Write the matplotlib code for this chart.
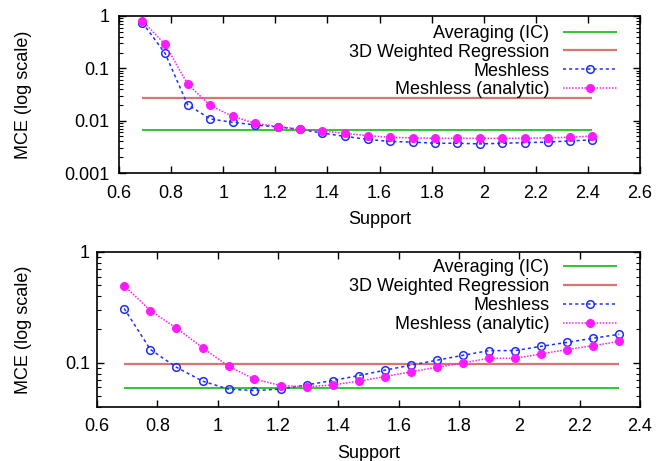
import numpy as np
from matplotlib import pyplot as plt
from matplotlib.ticker import FixedLocator, LogLocator, FuncFormatter, NullFormatter

plt.rcParams['font.family'] = ['Liberation Sans', 'DejaVu Sans']
plt.rcParams['font.size'] = 13

# data
support = [0.69, 0.777, 0.863, 0.95, 1.036, 1.122, 1.209, 1.295, 1.381, 1.468,
           1.554, 1.64, 1.727, 1.813, 1.899, 1.986, 2.072, 2.158, 2.245, 2.331, 2.417]

top_meshless = [0.745, 0.193, 0.0203, 0.0108, 0.0093, 0.0083, 0.0076, 0.0068, 0.0058, 0.0050,
                0.0044, 0.0040, 0.0039, 0.0037, 0.0037, 0.0036, 0.0037, 0.0038, 0.0039, 0.0041, 0.0043]
top_analytic = [0.81, 0.286, 0.0505, 0.0195, 0.0121, 0.0089, 0.0077, 0.0069, 0.0064, 0.0057,
                0.0052, 0.0048, 0.0047, 0.0046, 0.0046, 0.0046, 0.0046, 0.0046, 0.0047, 0.0048, 0.0051]
top_averaging = 0.0065
top_regression = 0.0269

bot_support = support[:20]
bot_meshless = [0.309, 0.132, 0.0914, 0.0684, 0.058, 0.0563, 0.058, 0.0633, 0.0693, 0.0769,
                0.0859, 0.0953, 0.1057, 0.117, 0.129, 0.129, 0.141, 0.153, 0.167, 0.181]
bot_analytic = [0.497, 0.296, 0.206, 0.137, 0.0933, 0.0713, 0.0625, 0.0608, 0.0633, 0.0684,
                0.0753, 0.083, 0.0914, 0.1, 0.110, 0.110, 0.1205, 0.132, 0.143, 0.156]
bot_averaging = 0.0596
bot_regression = 0.0973

labels = ['Averaging (IC)', '3D Weighted Regression', 'Meshless', 'Meshless (analytic)']

GREEN = '#22c022'
RED = '#d87474'
BLUE = '#1f2dff'
MAGENTA = '#ff1aff'


def draw(ax, x, mesh, ana, avg, reg):
    ax.hlines(avg, x[0], x[-1], color=GREEN, lw=1.3, label=labels[0])
    ax.hlines(reg, x[0], x[-1], color=RED, lw=1.6, label=labels[1])
    ax.plot(x, mesh, color=BLUE, lw=1.1, ls=(0, (2, 2)), marker='o', ms=5.5,
            mfc='none', mec=BLUE, mew=1.1, label=labels[2])
    ax.plot(x, ana, color=MAGENTA, lw=1.1, ls=(0, (1, 1)), marker='o', ms=5.5,
            mfc=MAGENTA, mec=MAGENTA, label=labels[3])
    ax.set_yscale('log')
    for s in ax.spines.values():
        s.set_linewidth(1.2)
    ax.tick_params(which='both', direction='in', top=True, right=True)
    ax.tick_params(which='major', length=5, width=1)
    ax.tick_params(which='minor', length=3, width=0.8)
    ax.yaxis.set_major_formatter(FuncFormatter(lambda v, p: '%g' % v))
    ax.yaxis.set_minor_locator(LogLocator(base=10, subs=np.arange(2, 10)))
    ax.yaxis.set_minor_formatter(NullFormatter())
    ax.xaxis.set_major_formatter(FuncFormatter(lambda v, p: '%g' % round(v, 2)))
    ax.set_xlabel('Support')
    ax.set_ylabel('MCE (log scale)')


fig = plt.figure(figsize=(6.68, 4.61), dpi=100)

ax1 = fig.add_axes([119/668, 1-173/461, 521/668, 157/461])
draw(ax1, support, top_meshless, top_analytic, top_averaging, top_regression)
ax1.set_xlim(0.6, 2.6)
ax1.set_ylim(0.001, 1)
ax1.set_xticks(np.arange(0.6, 2.61, 0.2))
ax1.tick_params(axis='x', which='major', pad=9)
ax1.tick_params(axis='y', which='major', pad=7)
ax1.xaxis.set_label_coords(0.5, -0.245)
ax1.yaxis.set_label_coords(-0.167, 0.5)
ax1.legend(loc='upper right', bbox_to_anchor=(0.956, 0.943), frameon=False,
           markerfirst=False, handlelength=3.0, handletextpad=0.75,
           labelspacing=0.1, borderpad=0, borderaxespad=0, numpoints=1)

ax2 = fig.add_axes([97/668, 1-407/461, 543/668, 155/461])
draw(ax2, bot_support, bot_meshless, bot_analytic, bot_averaging, bot_regression)
ax2.set_xlim(0.6, 2.4)
ax2.set_ylim(0.04, 1)
ax2.set_xticks(np.arange(0.6, 2.41, 0.2))
ax2.yaxis.set_major_locator(FixedLocator([0.1, 1]))
ax2.tick_params(axis='x', which='major', pad=8)
ax2.tick_params(axis='y', which='major', pad=5)
ax2.xaxis.set_label_coords(0.5, -0.245)
ax2.yaxis.set_label_coords(-0.12, 0.5)
ax2.legend(loc='upper right', bbox_to_anchor=(0.958, 0.952), frameon=False,
           markerfirst=False, handlelength=3.0, handletextpad=0.75,
           labelspacing=0.1, borderpad=0, borderaxespad=0, numpoints=1)

fig.savefig('out.png', dpi=100)
